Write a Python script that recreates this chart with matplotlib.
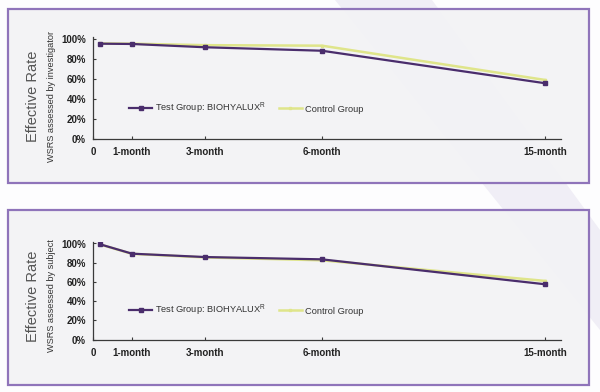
import matplotlib
matplotlib.use("Agg")
import matplotlib.pyplot as plt
from matplotlib.patches import Rectangle, Polygon

plt.rcParams['font.family'] = ['Liberation Sans', 'DejaVu Sans']
plt.rcParams['mathtext.fontset'] = 'custom'
plt.rcParams['mathtext.rm'] = 'Liberation Sans'
plt.rcParams['mathtext.it'] = 'Liberation Sans'

# ---- data ----
time_pos = [0.18, 1.0, 2.87, 5.87, 11.6]          # positions on the chart's time axis
tick_pos = [0, 1.0, 2.87, 5.87, 11.6]
tick_labels = ["0", "1-month", "3-month", "6-month", "15-month"]
y_ticks = [0, 20, 40, 60, 80, 100]
y_labels = ["0%", "20%", "40%", "60%", "80%", "100%"]

inv_test = [95.3, 95.0, 91.7, 88.2, 55.5]
inv_control = [95.5, 95.3, 93.8, 93.3, 58.8]
subj_test = [99.2, 89.4, 85.9, 83.5, 57.5]
subj_control = [99.0, 89.2, 85.5, 82.5, 61.0]

series_names = ["Test Group: BIOHYALUX$^{\\mathrm{R}}$", "Control Group"]
panel_titles = ["WSRS assessed by investigator", "WSRS assessed by subject"]

PURPLE = "#4a2d6c"
YELLOW = "#dfe58a"
FRAME = "#8c70b8"

W, H = 600, 392
fig = plt.figure(figsize=(6, 3.92), dpi=100)
fig.patch.set_facecolor("#fdfdfe")

def fx(px):
    return px / W

def fy(py):
    return 1 - py / H

# faint decorative band
band = Polygon([(fx(335), fy(0)), (fx(432), fy(0)), (fx(600), fy(230)), (fx(600), fy(330))],
               closed=True, facecolor="#f0eef6", edgecolor="none", transform=fig.transFigure, zorder=0)
fig.patches.append(band)

# frames
frames = [(8, 9, 589, 183), (8, 210, 589, 385)]
for (x0, y0, x1, y1) in frames:
    r = Rectangle((fx(x0), fy(y1)), fx(x1 - x0), (y1 - y0) / H, transform=fig.transFigure,
                  facecolor="#f3f3f5", edgecolor=FRAME, lw=1.6, alpha=0.97, zorder=1)
    fig.patches.append(r)

# axes placement: (x0px, zero_px, px_per_100)
axes_specs = [(93, 138.5, 99.5), (93, 339.5, 96.0)]
data = [(inv_test, inv_control), (subj_test, subj_control)]
text_y = [96, 296]

for i, ((x0, zero_px, p100), (test, ctrl)) in enumerate(zip(axes_specs, data)):
    ymax = 102
    top_px = zero_px - ymax / 100 * p100
    right_px = x0 + 12 * 39
    ax = fig.add_axes([fx(x0), fy(zero_px), (right_px - x0) / W, (zero_px - top_px) / H])
    ax.set_zorder(5)
    ax.patch.set_alpha(0)
    ax.set_xlim(0, 12)
    ax.set_ylim(0, ymax)
    for s in ["top", "right"]:
        ax.spines[s].set_visible(False)
    for s in ["left", "bottom"]:
        ax.spines[s].set_color("#3a3a3a")
        ax.spines[s].set_linewidth(0.9)

    lc, = ax.plot(time_pos, ctrl, color=YELLOW, lw=1.8, marker="s", ms=2.0,
                  mec=YELLOW, mfc=YELLOW, label=series_names[1], zorder=3)
    lt, = ax.plot(time_pos, test, color=PURPLE, lw=1.6, marker="s", ms=2.4,
                  mec=PURPLE, mfc=PURPLE, label=series_names[0], zorder=4)

    ax.set_yticks(y_ticks)
    ax.set_yticklabels(y_labels)
    ax.set_xticks(tick_pos)
    ax.set_xticklabels(tick_labels)
    ax.tick_params(axis="both", direction="in", length=2.5, width=0.8, colors="#3a3a3a",
                   labelsize=7, labelcolor="#222222")
    ax.tick_params(axis="y", pad=5)
    ax.tick_params(axis="x", pad=6)
    for lab in ax.get_xticklabels() + ax.get_yticklabels():
        lab.set_fontweight("bold")

    leg = ax.legend(handles=[lt, lc], ncol=2, frameon=False, fontsize=6.7,
                    loc="center left", bbox_to_anchor=(0.92, 30), bbox_transform=ax.transData,
                    handlelength=2.5, handletextpad=0.3, columnspacing=1.4,
                    borderpad=0, borderaxespad=0)
    for t in leg.get_texts():
        t.set_color("#333333")

    fig.text(fx(33), fy(text_y[i]), "Effective Rate", rotation=90, ha="center", va="center",
             fontsize=10.5, color="#555555", zorder=6)
    fig.text(fx(51), fy(text_y[i]), panel_titles[i], rotation=90, ha="center", va="center",
             fontsize=6.6, color="#333333", zorder=6)

fig.savefig("out.png", dpi=100, facecolor=fig.get_facecolor())
